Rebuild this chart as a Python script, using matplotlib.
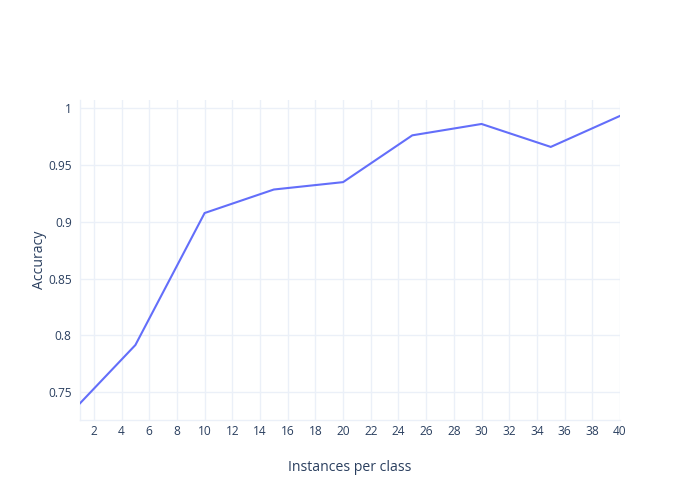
import matplotlib
matplotlib.use("Agg")
import matplotlib.pyplot as plt
from matplotlib.ticker import MultipleLocator, FuncFormatter

instances = [1, 5, 10, 15, 20, 25, 30, 35, 40]
accuracy = [0.7403, 0.7916, 0.9078, 0.9285, 0.9350, 0.9762, 0.9862, 0.9660, 0.9933]

x_label = "Instances per class"
y_label = "Accuracy"

plt.rcParams['font.family'] = ['Open Sans', 'DejaVu Sans']
text_color = '#2a3f5f'
grid_color = '#ebf0f8'

fig = plt.figure(figsize=(7, 5), dpi=100)
ax = fig.add_axes([80/700, 1-420/500, 540/700, 320/500])
ax.plot(instances, accuracy, color='#636efa', linewidth=1.5, solid_joinstyle='miter', zorder=3)

ax.set_xlim(1, 40)
ax.set_ylim(0.7256, 1.0073)
ax.xaxis.set_major_locator(MultipleLocator(2))
ax.yaxis.set_major_locator(MultipleLocator(0.05))

def yfmt(v, pos):
    s = f"{v:.2f}".rstrip('0').rstrip('.')
    return s
ax.yaxis.set_major_formatter(FuncFormatter(yfmt))

ax.grid(True, color=grid_color, linewidth=1)
ax.set_axisbelow(True)
for side in ['top', 'right']:
    ax.spines[side].set_visible(False)
for side in ['left', 'bottom']:
    ax.spines[side].set_color(grid_color)
    ax.spines[side].set_linewidth(1)

ax.tick_params(axis='both', length=0, labelsize=8.6, colors=text_color)
ax.tick_params(axis='x', pad=3.5)
ax.tick_params(axis='y', pad=6)

ax.set_xlabel(x_label, fontsize=10.1, color=text_color, labelpad=16)
ax.set_ylabel(y_label, fontsize=10.1, color=text_color, labelpad=0.5)

fig.savefig("out.png", dpi=100, facecolor='white')
